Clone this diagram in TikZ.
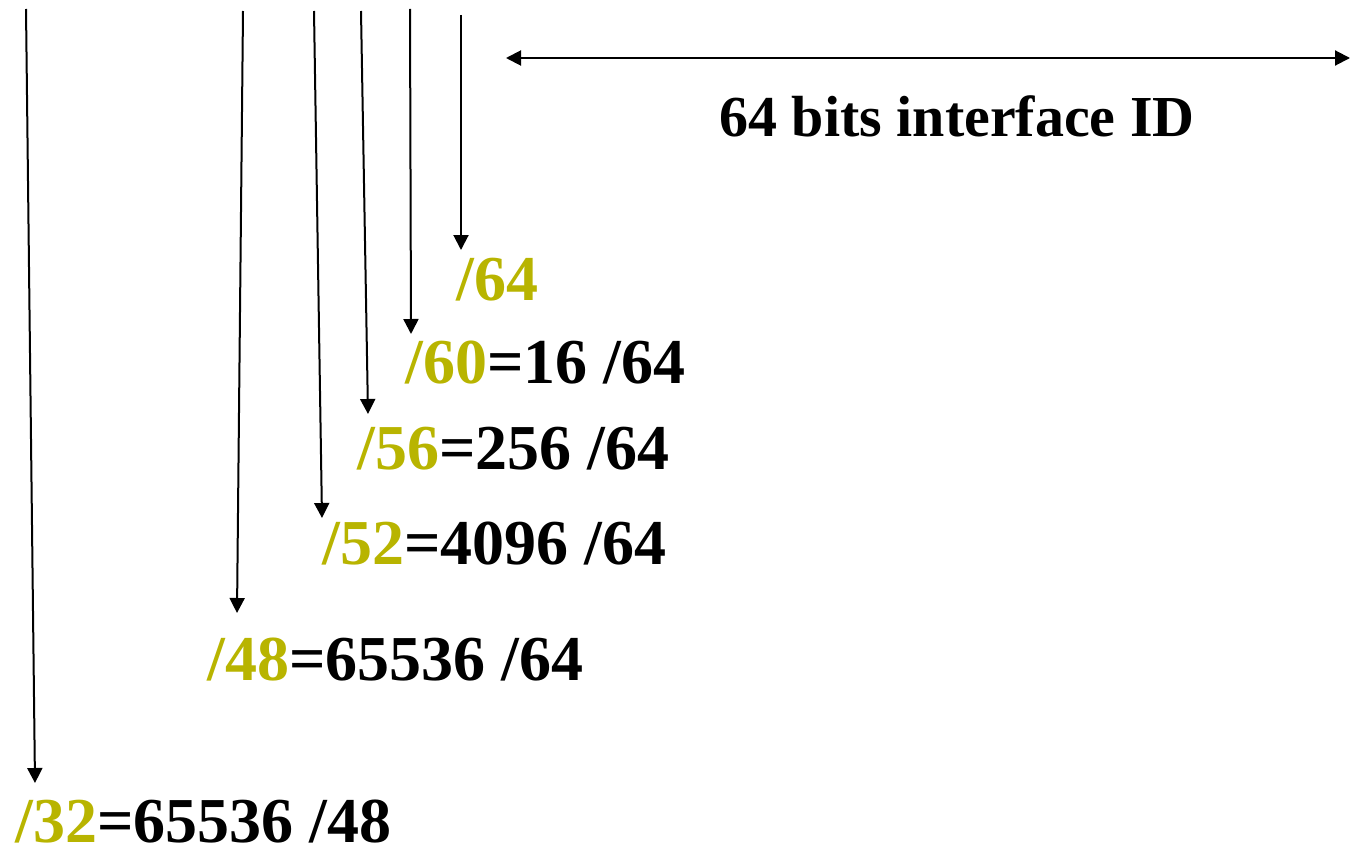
\documentclass[tikz,border=0pt]{standalone}
\usepackage{fontspec}
\setmainfont{Liberation Serif}
\usetikzlibrary{arrows.meta,calc}
\definecolor{pfxcol}{RGB}{184,180,0}
\tikzset{>={Triangle[width=7.5pt,length=7.5pt]}}

\begin{document}
\begin{tikzpicture}[x=0.5pt,y=-0.5pt]

%% styles
\tikzstyle{lbl}=[anchor=base west, inner sep=0pt, font=\fontsize{32}{36}\selectfont\bfseries]

\tikzstyle{ttl}=[anchor=base, inner sep=0pt, font=\fontsize{29}{34}\selectfont\bfseries]

\tikzstyle{pin}=[->, line width=1pt]

\useasboundingbox (0,0) rectangle (1358,856);

%% prefix labels
\node(L64)[style=lbl] at (456,300) {\textcolor{pfxcol}{/64}};
\node(L60)[style=lbl] at (405,383) {\textcolor{pfxcol}{/60}=16 /64};
\node(L56)[style=lbl] at (357,469) {\textcolor{pfxcol}{/56}=256 /64};
\node(L52)[style=lbl] at (322,564) {\textcolor{pfxcol}{/52}=4096 /64};
\node(L48)[style=lbl] at (207,680) {\textcolor{pfxcol}{/48}=65536 /64};
\node(L32)[style=lbl] at (15,842) {\textcolor{pfxcol}{/32}=65536 /48};

%% interface ID
\coordinate(IDL) at (506,58);
\coordinate(IDR) at (1350,58);
\node(ID)[style=ttl] at (957,136) {64 bits interface ID};

%% tops of the arrows
\coordinate(T32) at (26,9);
\coordinate(T48) at (243,11);
\coordinate(T52) at (314,11);
\coordinate(T56) at (361,11);
\coordinate(T60) at (410,9);
\coordinate(T64) at (461,15);

%% arrows
\path [draw, style=pin] (T64) -- ($(L64.base west)+(5,-50)$);
\path [draw, style=pin] (T60) -- ($(L60.base west)+(6,-49)$);
\path [draw, style=pin] (T56) -- ($(L56.base west)+(11,-55)$);
\path [draw, style=pin] (T52) -- ($(L52.base west)+(0,-46)$);
\path [draw, style=pin] (T48) -- ($(L48.base west)+(30,-67)$);
\path [draw, style=pin] (T32) -- ($(L32.base west)+(20,-59)$);

\path [draw, <->, line width=1pt] (IDL) -- (IDR);

\end{tikzpicture}
\end{document}
